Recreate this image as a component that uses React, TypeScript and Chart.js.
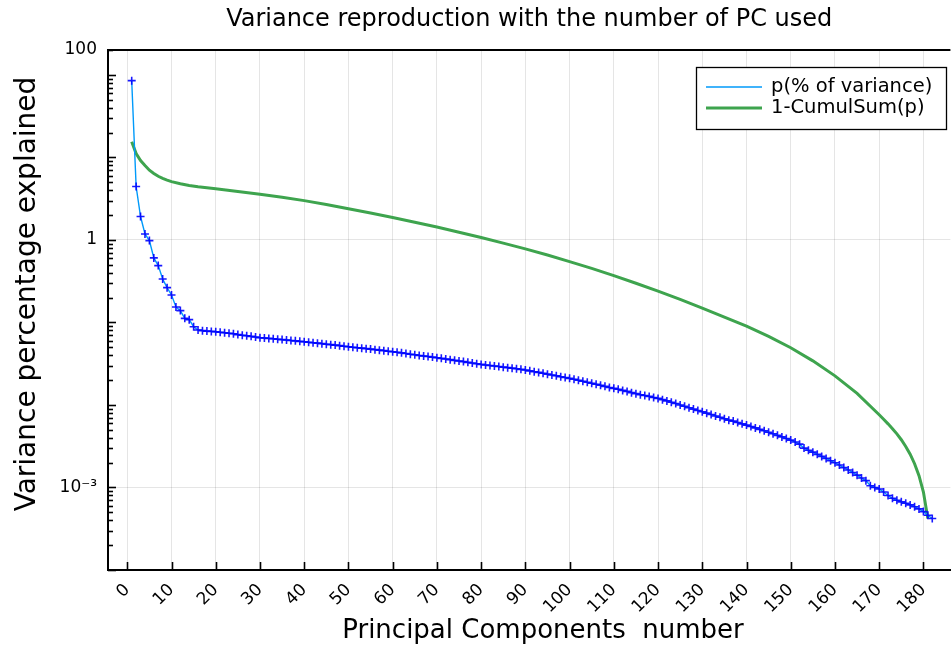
import React, { useEffect, useRef } from "react";
import { Chart, registerables } from "chart.js";

Chart.register(...registerables);

const chartTitle = "Variance reproduction with the number of PC used";
const xAxisTitle = "Principal Components  number";
const yAxisTitle = "Variance percentage explained";
const pLabel = "p(% of variance)";
const remainderLabel = "1-CumulSum(p)";

// p (% of variance) of principal components 1..182
const pValues = [
  85, 4.43, 1.92, 1.18, 0.98, 0.605, 0.488, 0.336, 0.264, 0.215,
  0.154, 0.139, 0.112, 0.108, 0.0887, 0.081,
  0.0795, 0.0785, 0.0778, 0.0772, 0.076, 0.075, 0.0738, 0.0728, 0.0712, 0.07, 0.069, 0.0678, 0.0665, 0.0653,
  0.0647, 0.064, 0.0633, 0.0625, 0.0619, 0.0612, 0.0605, 0.0598, 0.059, 0.0583,
  0.0575, 0.0568, 0.0561, 0.0553, 0.0545, 0.0538, 0.0531, 0.0523, 0.0515, 0.0508,
  0.0501, 0.0494, 0.0488, 0.0481, 0.0475, 0.0468, 0.0461, 0.0455, 0.0448, 0.0442,
  0.0435, 0.0428, 0.042, 0.0412, 0.0405, 0.0398, 0.0392, 0.0386, 0.038, 0.0373,
  0.0367, 0.036, 0.0354, 0.0347, 0.0341, 0.0335, 0.0328, 0.0322, 0.0316, 0.031,
  0.0305, 0.0301, 0.0296, 0.0292, 0.0287, 0.0283, 0.0279, 0.0274, 0.027, 0.0265,
  0.0259, 0.0253, 0.0248, 0.0242, 0.0236, 0.0231, 0.0226, 0.022, 0.0215, 0.021,
  0.0205, 0.0199, 0.0194, 0.0188, 0.0183, 0.0178, 0.0173, 0.0168, 0.0163, 0.0159,
  0.0155, 0.015, 0.0146, 0.0141, 0.0137, 0.0133, 0.013, 0.0127, 0.0123, 0.012,
  0.0116, 0.0112, 0.0108, 0.0104, 0.01, 0.00963, 0.00926, 0.00891, 0.00858, 0.00826,
  0.00795, 0.00765, 0.00736, 0.00708, 0.0068, 0.00654, 0.00637, 0.00612, 0.0059, 0.0057,
  0.00548, 0.00527, 0.00506, 0.00486, 0.00466, 0.00447, 0.00428, 0.0041, 0.00392, 0.00375,
  0.00355, 0.00335, 0.003, 0.00282, 0.00268, 0.00252, 0.00238, 0.00225, 0.00211, 0.00199,
  0.00187, 0.00174, 0.00163, 0.00152, 0.00141, 0.0013, 0.00121, 0.00105, 0.001, 0.00096,
  0.00088, 0.0008, 0.00074, 0.0007, 0.00067, 0.000645, 0.000615, 0.000585, 0.00055, 0.00051,
  0.00046, 0.000421,
];

// 1 - CumulSum(p), read at these component numbers
const remainderComponents = [
  1, 2, 3, 4, 5, 6, 7, 8, 9, 10, 12, 14, 16, 20, 25, 30, 35, 40, 45, 50,
  55, 60, 65, 70, 75, 80, 85, 90, 95, 100, 105, 110, 115, 120, 125, 130, 135, 140, 145, 150,
  155, 160, 165, 170, 171, 172, 173, 174, 175, 176, 177, 178, 179, 180, 181,
];
const remainderValues = [
  15.5, 11.1, 9.15, 7.97, 6.99, 6.39, 5.9, 5.56, 5.3, 5.08, 4.79, 4.57, 4.4, 4.16, 3.86, 3.58, 3.28, 2.99, 2.69, 2.38,
  2.12, 1.87, 1.64, 1.43, 1.24, 1.07, 0.915, 0.778, 0.655, 0.546, 0.452, 0.369, 0.298, 0.24, 0.19, 0.149, 0.1161, 0.0899, 0.0679, 0.0493,
  0.0342, 0.0225, 0.01384, 0.0076, 0.0067, 0.0059, 0.00516, 0.00446, 0.00379, 0.00314, 0.00253, 0.00194, 0.00139, 0.00088, 0.00042,
];

const xTickValues = [0, 10, 20, 30, 40, 50, 60, 70, 80, 90, 100, 110, 120, 130, 140, 150, 160, 170, 180];
const yTickValues = [0.001, 1, 200];
const yTickLabels = ["10\u207B\u00B3", "1", "100"];

const X_MIN = -4.36;
const X_MAX = 186.1;
const Y_MIN = 1e-4;
const Y_MAX = 200;

const FONT = '"DejaVu Sans", sans-serif';
const BLUE_LINE = "#009AFA";
const BLUE_MARK = "rgba(0,0,255,0.9)";
const GREEN = "#3EA44E";

const decorPlugin = {
  id: "decor",
  afterDraw(chart: any) {
    const { ctx, chartArea: ca, scales } = chart;
    const xs = scales.x;
    const ys = scales.y;
    ctx.save();
    // top frame line
    ctx.strokeStyle = "#000";
    ctx.lineWidth = 2;
    ctx.beginPath();
    ctx.moveTo(ca.left - 1, ca.top);
    ctx.lineTo(ca.right, ca.top);
    ctx.stroke();

    // y ticks (inward), major at powers of ten, minor 2..9
    ctx.strokeStyle = "#000";
    ctx.lineWidth = 1.6;
    for (let k = -4; k <= 2; k++) {
      for (let m = 1; m <= 9; m++) {
        const v = m * Math.pow(10, k);
        if (v < Y_MIN * 0.999 || v > Y_MAX) continue;
        const py = Math.round(ys.getPixelForValue(v)) + 0.5;
        const len = m === 1 ? 8 : 5;
        ctx.beginPath();
        ctx.moveTo(ca.left, py);
        ctx.lineTo(ca.left + len, py);
        ctx.stroke();
      }
    }
    // x ticks (inward)
    for (const t of xTickValues) {
      const px = Math.round(xs.getPixelForValue(t)) + 0.5;
      ctx.beginPath();
      ctx.moveTo(px, ca.bottom);
      ctx.lineTo(px, ca.bottom - 8);
      ctx.stroke();
    }

    // axis titles
    ctx.fillStyle = "#000";
    ctx.textAlign = "center";
    ctx.textBaseline = "middle";
    ctx.font = `26px ${FONT}`;
    ctx.fillText(xAxisTitle, 543, 631);
    ctx.save();
    ctx.font = `28px ${FONT}`;
    ctx.translate(28, 294);
    ctx.rotate(-Math.PI / 2);
    ctx.fillText(yAxisTitle, 0, 0);
    ctx.restore();

    // legend
    const lx = 696;
    const ly = ca.top + 17;
    const lw = 250;
    const lh = 62;
    ctx.fillStyle = "#fff";
    ctx.fillRect(lx, ly, lw, lh);
    ctx.strokeStyle = "#000";
    ctx.lineWidth = 1.3;
    ctx.strokeRect(lx + 0.5, ly + 0.5, lw, lh);
    const items = chart.data.datasets;
    const rows = [ly + 20, ly + 41];
    items.forEach((ds: any, i: number) => {
      ctx.strokeStyle = ds.borderColor;
      ctx.lineWidth = ds.borderWidth;
      ctx.beginPath();
      ctx.moveTo(lx + 10, rows[i]);
      ctx.lineTo(lx + 66, rows[i]);
      ctx.stroke();
      ctx.fillStyle = "#000";
      ctx.font = `19.5px ${FONT}`;
      ctx.textAlign = "left";
      ctx.textBaseline = "middle";
      ctx.fillText(ds.label, lx + 75, rows[i]);
    });
    ctx.restore();
  },
};

export default function App() {
  const canvasRef = useRef<HTMLCanvasElement | null>(null);

  useEffect(() => {
    const canvas = canvasRef.current;
    if (!canvas) return;
    const pPoints = pValues.map((v, i) => ({ x: i + 1, y: v }));
    const rPoints = remainderValues.map((v, i) => ({ x: remainderComponents[i], y: v }));
    const tickFont = { family: FONT, size: 17 };
    const chart = new Chart(canvas, {
      type: "line",
      data: {
        datasets: [
          {
            label: pLabel,
            data: pPoints,
            borderColor: BLUE_LINE,
            borderWidth: 1.4,
            pointStyle: "cross",
            pointRadius: 4,
            pointBorderColor: BLUE_MARK,
            pointBackgroundColor: BLUE_MARK,
            pointBorderWidth: 1.6,
            tension: 0,
            fill: false,
          },
          {
            label: remainderLabel,
            data: rPoints,
            borderColor: GREEN,
            borderWidth: 3,
            pointRadius: 0,
            tension: 0,
            fill: false,
          },
        ],
      },
      options: {
        responsive: false,
        animation: false,
        events: [],
        layout: { padding: 0 },
        plugins: {
          legend: { display: false },
          tooltip: { enabled: false },
          title: {
            display: true,
            text: chartTitle,
            fullSize: false,
            color: "#000",
            font: { family: FONT, size: 24, weight: "normal" },
            padding: { top: 5, bottom: 16.2 },
          },
        },
        scales: {
          x: {
            type: "linear",
            min: X_MIN,
            max: X_MAX,
            afterFit: (s: any) => {
              s.height = 76;
              s.paddingRight = 0;
              s.paddingLeft = 0;
            },
            afterBuildTicks: (s: any) => {
              s.ticks = xTickValues.map((v) => ({ value: v }));
            },
            ticks: {
              autoSkip: false,
              minRotation: 45,
              maxRotation: 45,
              font: tickFont,
              color: "#000",
              padding: 10,
            },
            grid: { color: "rgba(0,0,0,0.1)", lineWidth: 1, drawTicks: false },
            border: { color: "#000", width: 2 },
          },
          y: {
            type: "logarithmic",
            min: Y_MIN,
            max: Y_MAX,
            afterFit: (s: any) => {
              s.width = 108;
              s.paddingTop = 0;
              s.paddingBottom = 0;
            },
            afterBuildTicks: (s: any) => {
              s.ticks = yTickValues.map((v) => ({ value: v }));
            },
            ticks: {
              autoSkip: false,
              font: tickFont,
              color: "#000",
              padding: 11,
              callback: (_v: any, i: number) => yTickLabels[i],
            },
            grid: { color: "rgba(0,0,0,0.1)", lineWidth: 1, drawTicks: false },
            border: { color: "#000", width: 2 },
          },
        },
      },
      plugins: [decorPlugin],
    } as any);
    return () => chart.destroy();
  }, []);

  return (
    <div
      style={{
        position: "absolute",
        left: 0,
        top: 0,
        width: 951,
        height: 646,
        overflow: "hidden",
        background: "#fff",
      }}
    >
      <canvas ref={canvasRef} width={956} height={646} style={{ display: "block" }} />
    </div>
  );
}
